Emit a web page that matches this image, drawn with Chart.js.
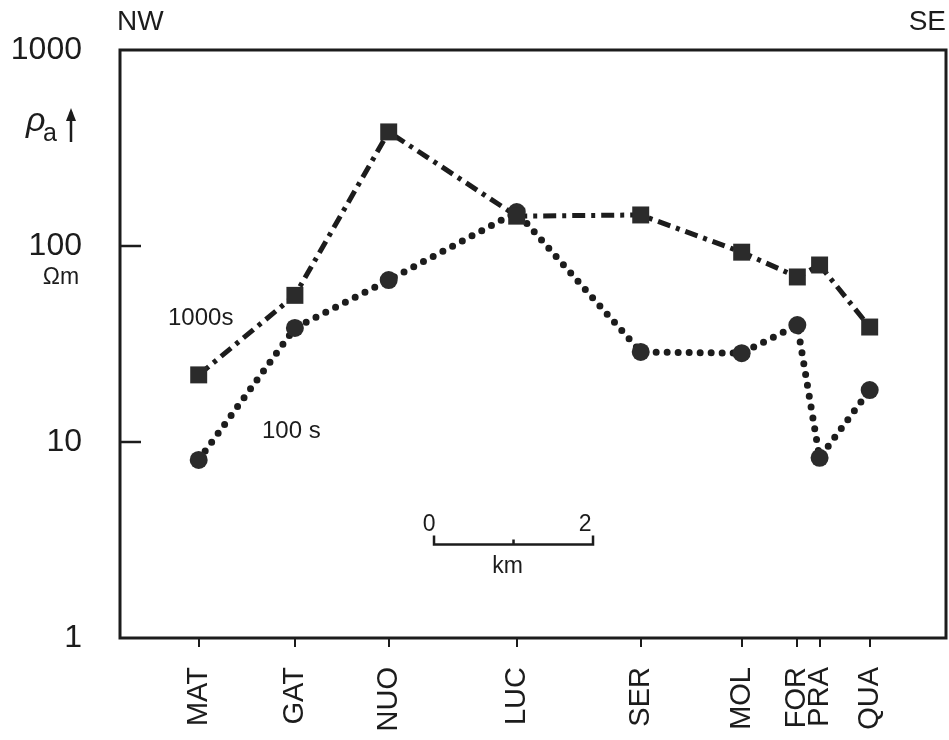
<!DOCTYPE html>
<html>
<head>
<meta charset="utf-8">
<script src="https://cdn.jsdelivr.net/npm/chart.js@4/dist/chart.umd.min.js"></script>
<style>
  html, body { margin: 0; padding: 0; background: #fff; }
  #wrap { width: 949px; height: 740px; }
</style>
</head>
<body>
<div id="wrap"><canvas id="profile"></canvas></div>
<script>
// stations along the NW-SE profile, distance in km
const stations = ['MAT', 'GAT', 'NUO', 'LUC', 'SER', 'MOL', 'FOR', 'PRA', 'QUA'];
const stationKm = [0.99, 2.20, 3.38, 4.99, 6.55, 7.82, 8.52, 8.80, 9.43];

// apparent resistivity (ohm m)
const rho1000s = [22, 56, 382, 142, 144, 93, 69.5, 80, 38.6];
const rho100s = [8.1, 38.2, 67, 149, 28.8, 28.4, 39.5, 8.3, 18.4];

const yTicks = [1, 10, 100, 1000];
const scaleBarKm = [3.95, 5.95];

const ink = '#1c1c1c';
const font = 'Liberation Sans, Arial, sans-serif';

function points(vals) {
    return vals.map((v, i) => ({ x: stationKm[i], y: v }));
}

// frame, inner ticks, km scale bar and the loose labels
const decorations = {
    id: 'decorations',
    afterDraw(chart) {
        const ctx = chart.ctx;
        const a = chart.chartArea;
        const xs = chart.scales.x;
        const ys = chart.scales.y;
        ctx.save();
        ctx.strokeStyle = ink;
        ctx.fillStyle = ink;
        ctx.lineWidth = 3;
        ctx.strokeRect(a.left, a.top, a.right - a.left, a.bottom - a.top);

        ctx.lineWidth = 2.5;
        [10, 100].forEach((v) => {
            const y = ys.getPixelForValue(v);
            ctx.beginPath();
            ctx.moveTo(a.left, y);
            ctx.lineTo(a.left + 21, y);
            ctx.stroke();
        });

        // scale bar
        const x0 = xs.getPixelForValue(scaleBarKm[0]);
        const x1 = xs.getPixelForValue(scaleBarKm[1]);
        const yb = ys.getPixelForValue(3);
        ctx.lineWidth = 2.5;
        ctx.beginPath();
        ctx.moveTo(x0, yb - 9);
        ctx.lineTo(x0, yb);
        ctx.lineTo(x1, yb);
        ctx.lineTo(x1, yb - 9);
        ctx.moveTo((x0 + x1) / 2, yb);
        ctx.lineTo((x0 + x1) / 2, yb - 5);
        ctx.stroke();

        ctx.textBaseline = 'middle';
        ctx.textAlign = 'center';
        ctx.font = '23px ' + font;
        ctx.fillText('0', x0 - 5, yb - 20);
        ctx.fillText('2', x1 - 8, yb - 20);
        ctx.fillText('km', (x0 + x1) / 2 - 6, yb + 22);

        ctx.font = '24px ' + font;
        ctx.textAlign = 'left';
        ctx.fillText('1000s', 168, 318);
        ctx.fillText('100 s', 262, 431);

        ctx.font = '28px ' + font;
        ctx.fillText('NW', 117, 22);
        ctx.textAlign = 'right';
        ctx.fillText('SE', 946, 22);

        ctx.textAlign = 'center';
        ctx.font = '23px ' + font;
        ctx.fillText('\u03a9m', 61, 278);

        // rho_a with arrow
        ctx.textAlign = 'left';
        ctx.font = 'italic 34px ' + font;
        ctx.fillText('\u03c1', 26, 122);
        ctx.font = '25px ' + font;
        ctx.fillText('a', 43, 134);
        ctx.lineWidth = 2.5;
        ctx.beginPath();
        ctx.moveTo(71, 142);
        ctx.lineTo(71, 112);
        ctx.stroke();
        ctx.beginPath();
        ctx.moveTo(66, 121);
        ctx.lineTo(71, 108);
        ctx.lineTo(76, 121);
        ctx.closePath();
        ctx.fill();
        ctx.restore();
    }
};

new Chart(document.querySelector('#profile'), {
    type: 'line',
    data: {
        datasets: [{
            label: '1000s',
            data: points(rho1000s),
            borderColor: ink,
            borderWidth: 5,
            borderDash: [13, 6, 4, 6],
            pointStyle: 'rect',
            pointRadius: 12,
            pointBackgroundColor: '#2b2b2b',
            pointBorderWidth: 0
        }, {
            label: '100 s',
            data: points(rho100s),
            borderColor: ink,
            borderWidth: 7,
            borderDash: [0, 11],
            borderCapStyle: 'round',
            pointStyle: 'circle',
            pointRadius: 9,
            pointBackgroundColor: '#2b2b2b',
            pointBorderWidth: 0
        }]
    },
    options: {
        responsive: true,
        maintainAspectRatio: false,
        animation: false,
        layout: { autoPadding: false, padding: { top: 50, right: 3, left: 0, bottom: 0 } },
        plugins: {
            legend: { display: false },
            tooltip: { enabled: false }
        },
        scales: {
            x: {
                type: 'linear',
                min: 0,
                max: 10.39,
                afterBuildTicks: (scale) => {
                    scale.ticks = stationKm.map((v) => ({ value: v }));
                },
                afterFit: (scale) => {
                    scale.height = 102;
                    scale.paddingLeft = 0;
                    scale.paddingRight = 0;
                },
                border: { display: false },
                grid: {
                    drawOnChartArea: false,
                    drawTicks: true,
                    tickLength: 9,
                    color: ink,
                    lineWidth: 2
                },
                ticks: {
                    autoSkip: false,
                    minRotation: 90,
                    maxRotation: 90,
                    padding: 20,
                    color: ink,
                    font: { family: font, size: 29 },
                    callback: (v, i) => stations[i]
                }
            },
            y: {
                type: 'logarithmic',
                min: 1,
                max: 1000,
                afterBuildTicks: (scale) => {
                    scale.ticks = yTicks.map((v) => ({ value: v }));
                },
                afterFit: (scale) => {
                    scale.width = 120;
                    scale.paddingTop = 0;
                    scale.paddingBottom = 0;
                },
                border: { display: false },
                grid: { display: false, drawTicks: false },
                ticks: {
                    padding: 38,
                    color: ink,
                    font: { family: font, size: 32 },
                    callback: (v) => String(v)
                }
            }
        }
    },
    plugins: [decorations]
});
</script>
</body>
</html>
